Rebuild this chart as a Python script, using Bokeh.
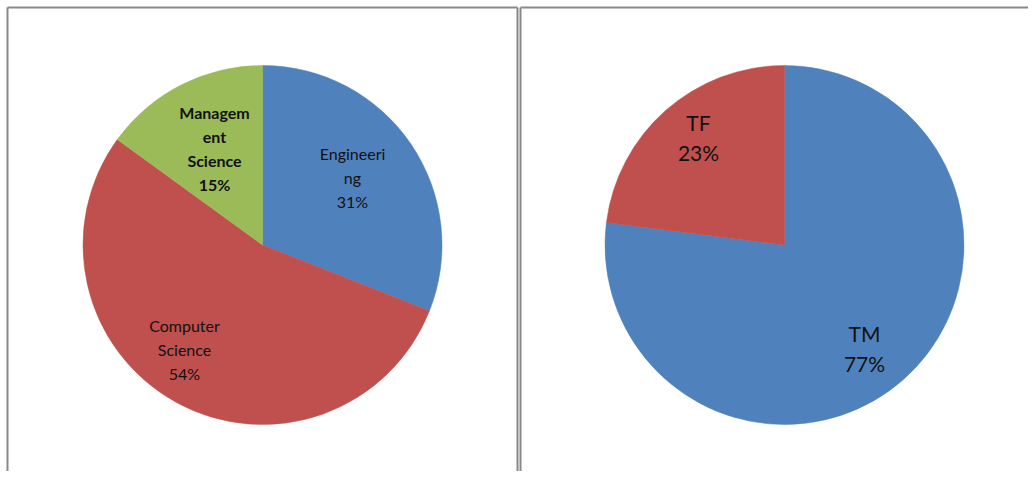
import numpy as np
from bokeh.plotting import figure
from bokeh.models import Range1d, ColumnDataSource
from bokeh.core.properties import value
from bokeh.embed import file_html
from bokeh.resources import INLINE

# ---- data ----
left_labels = ["Engineeri\nng\n31%", "Computer\nScience\n54%", "Managem\nent\nScience\n15%"]
left_values = [31, 54, 15]
left_colors = ["#4F81BD", "#C0504D", "#9BBB59"]
left_bold = [False, False, True]

right_labels = ["TM\n77%", "TF\n23%"]
right_values = [77, 23]
right_colors = ["#4F81BD", "#C0504D"]

W, H = 1028, 471

def Y(sy):
    return H - sy

p = figure(width=W, height=H, output_backend="svg", toolbar_location=None,
           x_range=Range1d(0, W), y_range=Range1d(0, H), min_border=0)
p.axis.visible = False
p.grid.visible = False
p.outline_line_color = None
p.background_fill_color = "white"
p.border_fill_color = "white"

def pie(cx, cy, r, values, colors):
    vals = np.array(values, dtype=float)
    frac = vals / vals.sum()
    ends = np.pi / 2 - 2 * np.pi * np.cumsum(frac)
    starts = np.concatenate([[np.pi / 2], ends[:-1]])
    src = ColumnDataSource(dict(start=starts, end=ends, color=colors))
    p.wedge(x=cx, y=Y(cy), radius=r, start_angle="start", end_angle="end",
            direction="clock", fill_color="color", line_color="color", line_width=0.5,
            source=src)

pie(262, 244.5, 179.5, left_values, left_colors)
pie(784, 244.5, 179.5, right_values, right_colors)

# labels (x, middle y in screen px)
left_pos = [(352, 177), (184, 349), (214, 148)]
for lab, (x, y), b in zip(left_labels, left_pos, left_bold):
    p.text(x=[x], y=[Y(y)], text=[lab], text_font=value("Lato"),
           text_font_size="16px", text_font_style="bold" if b else "normal",
           text_align="center", text_baseline="middle", text_line_height=1.25,
           text_color="#111111")

right_pos = [(864, 348), (698, 137)]
for lab, (x, y) in zip(right_labels, right_pos):
    p.text(x=[x], y=[Y(y)], text=[lab], text_font=value("Lato"),
           text_font_size="21px", text_align="center", text_baseline="middle",
           text_line_height=1.17, text_color="#111111")

# panel borders
gray = "#888888"
p.segment(x0=[7, 7, 517, 520, 520], y0=[Y(7), Y(7), Y(7), Y(7), Y(7)],
          x1=[7, 517, 517, 520, 1036], y1=[Y(479), Y(7), Y(479), Y(479), Y(7)],
          line_color=gray, line_width=2)

open("out.html", "w").write(file_html(p, INLINE))
